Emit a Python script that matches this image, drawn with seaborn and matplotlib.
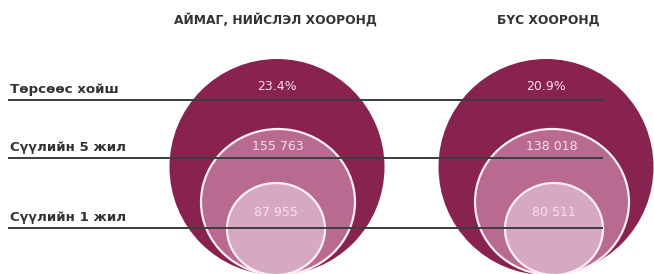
import matplotlib
matplotlib.use("Agg")
import matplotlib.pyplot as plt
from matplotlib.patches import Ellipse
import seaborn as sns

groups = ["АЙМАГ, НИЙСЛЭЛ ХООРОНД", "БҮС ХООРОНД"]
levels = ["Төрсөөс хойш", "Сүүлийн 5 жил", "Сүүлийн 1 жил"]
aimag_values = ["23.4%", "155 763", "87 955"]
bus_values = ["20.9%", "138 018", "80 511"]

sns.set_theme(style="white")
plt.rcParams["font.family"] = ["DejaVu Sans"]

colors = ["#88224f", "#b86a91", "#d7a8c2"]
# pixel layout: ring x centers per group, ring sizes, rows
ring_x = [[277, 278, 276], [546, 552, 554]]
title_x = [275, 548]
widths = [215, 154, 98]
heights = [216, 146, 92]
bottom = 275
line_y = [100, 158, 228]
value_y = [86, 147, 213]

fig = plt.figure(figsize=(6.54, 2.74), dpi=100)
ax = fig.add_axes([0, 0, 1, 1])
ax.set_xlim(0, 654)
ax.set_ylim(274, 0)
ax.axis("off")

for xs, vals in zip(ring_x, [aimag_values, bus_values]):
    for i, (cx, w, h) in enumerate(zip(xs, widths, heights)):
        ec = "none" if i == 0 else "#fbeef4"
        ax.add_patch(Ellipse((cx, bottom - h / 2), w, h, facecolor=colors[i],
                             edgecolor=ec, lw=1.6, zorder=1 + i))
    for cx, v, y in zip(xs, vals, value_y):
        ax.text(cx, y, v, ha="center", va="center", color="#f6dfea",
                fontsize=9, zorder=6)

for g, cx in zip(groups, title_x):
    ax.text(cx, 20, g, ha="center", va="center", color="#333333",
            fontsize=8.8, fontweight="bold")

for lab, y in zip(levels, line_y):
    ax.hlines(y, 8, 603, color="#3c3c3c", lw=1.4, zorder=5)
    ax.text(10, y - 11, lab, ha="left", va="center", color="#333333",
            fontsize=9.6, fontweight="bold")

fig.savefig("out.png", dpi=100)
